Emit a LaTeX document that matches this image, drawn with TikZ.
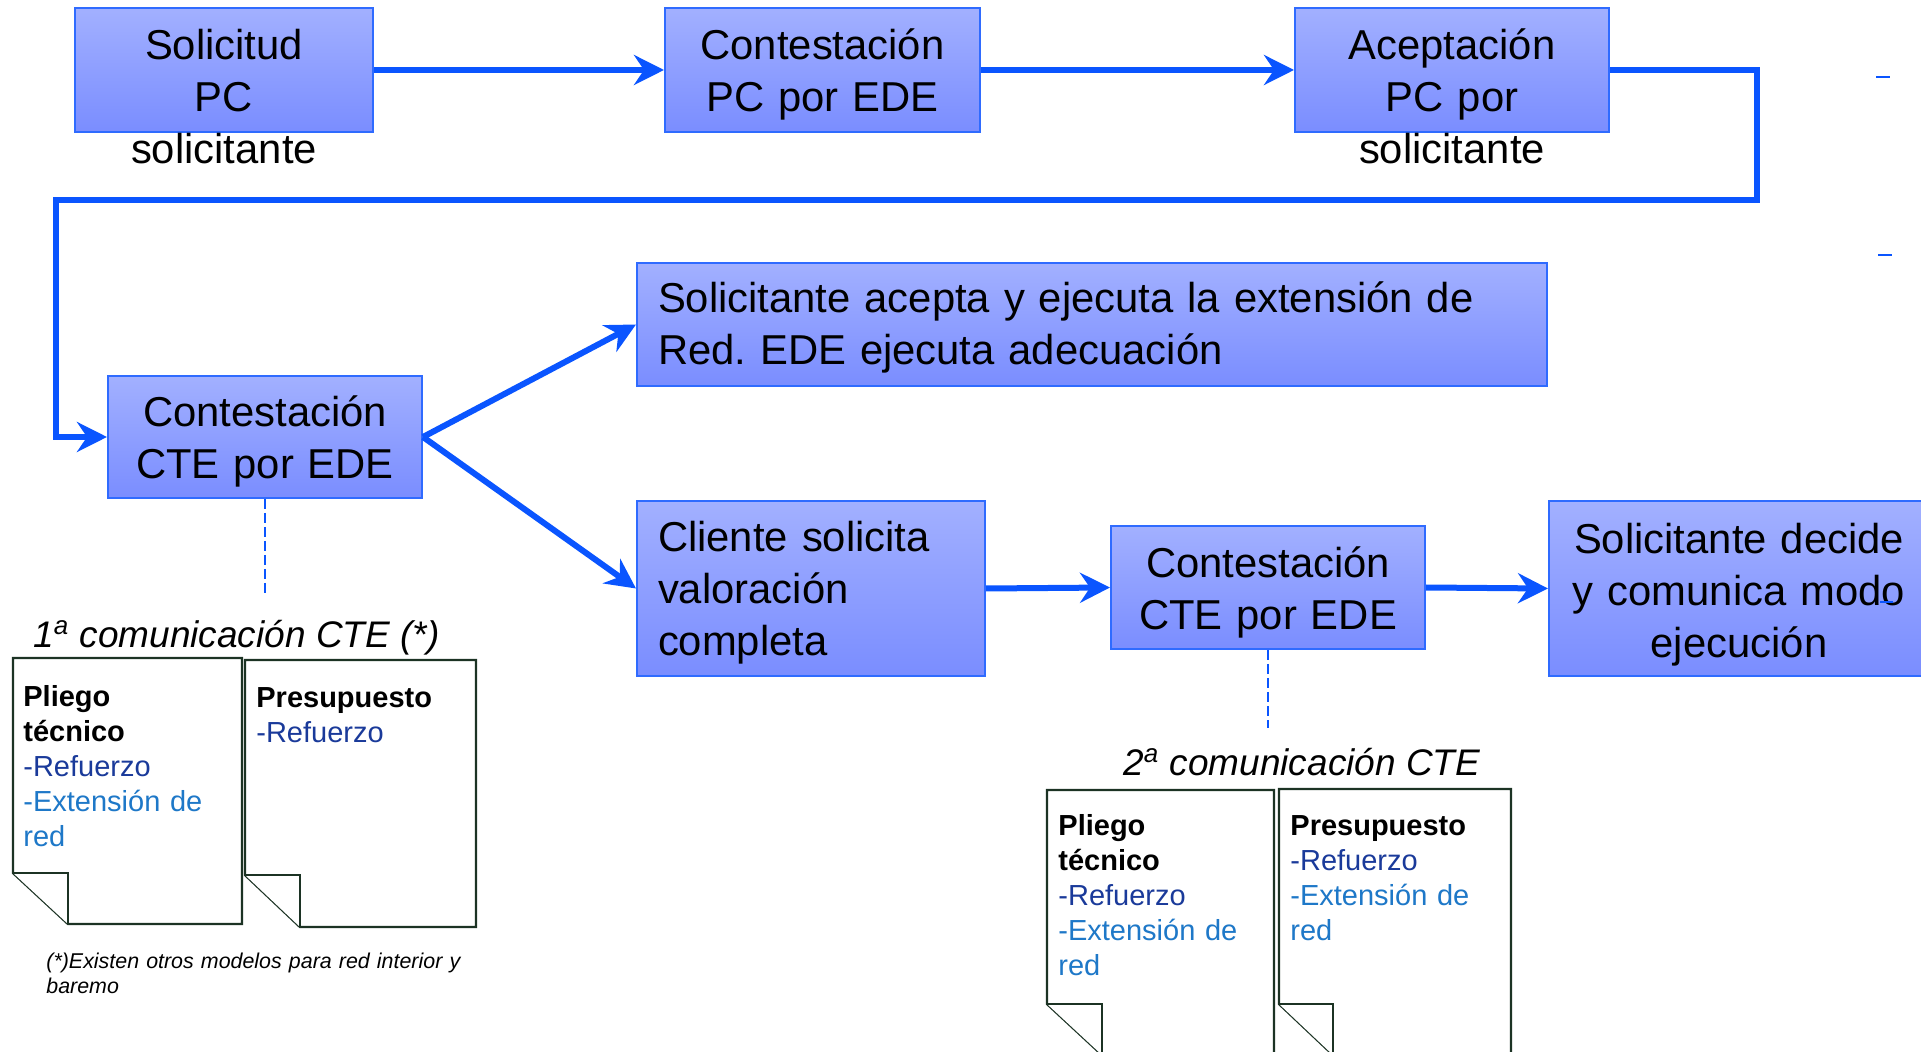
\documentclass[tikz,border=0pt]{standalone}
\usepackage{fontspec}
\setmainfont{Liberation Sans}
\usetikzlibrary{arrows.meta, positioning, calc}

\definecolor{flowblue}{RGB}{10,85,255}
\definecolor{boxtop}{RGB}{162,176,255}
\definecolor{boxbottom}{RGB}{122,141,255}
\definecolor{boxedge}{RGB}{47,107,255}
\definecolor{docedge}{RGB}{28,51,36}
\definecolor{refblue}{RGB}{26,58,154}
\definecolor{extblue}{RGB}{30,120,200}

\newcommand{\stagefont}{\fontsize{20.9}{26}\selectfont}
\newcommand{\sheetfont}{\fontsize{14.5}{17.5}\selectfont}
\newcommand{\titlefont}{\itshape\fontsize{18.5}{22}\selectfont}
\newcommand{\notefont}{\itshape\fontsize{10.7}{12.5}\selectfont}

\begin{document}
\frenchspacing
\begin{tikzpicture}[
    x=0.5pt, y=-0.5pt,
    >={Stealth[length=15pt, width=15pt, inset=5pt]},
    flow/.style={->, line width=3pt, color=flowblue},
    stage box/.style={draw=boxedge, line width=1pt, top color=boxtop, bottom color=boxbottom, inner ysep=0pt, font=\stagefont},
    centred stage/.style={stage box, align=center, inner xsep=0pt},
    left stage/.style={stage box, align=left, inner xsep=10.5pt},
    sheet/.style={draw=docedge, line width=1.2pt, fill=white},
    sheet text/.style={anchor=base west, inner sep=0pt, align=left, text width=105pt, font=\sheetfont},
    comm title/.style={anchor=base west, inner sep=0pt, font=\titlefont},
    comm link/.style={dash pattern=on 5pt off 2pt, line width=1.3pt, color=flowblue},
    stray mark/.style={line width=1.3pt, color=flowblue}
]

    \useasboundingbox (0,0) rectangle (1921,1052);

    % === Coordinates ===
    \coordinate (loopR) at (1757,200);
    \coordinate (loopL) at (56,200);
    \coordinate (comm1) at (265,595);
    \coordinate (comm2) at (1268,728);

    % === Stage boxes ===
    % text height/depth fix the first baseline inside each box
    \node[centred stage, text width=149pt, text height=26pt, text depth=36pt] (solicitud) at (224,70) {Solicitud\\PC\\solicitante};
    \node[centred stage, text width=157.5pt, text height=26pt, text depth=36pt] (pcEde) at (822.5,70) {Contestación\\PC por EDE};
    \node[centred stage, text width=157pt, text height=26pt, text depth=36pt] (aceptacion) at (1452,70) {Aceptación\\PC por\\solicitante};
    \node[centred stage, text width=157pt, text height=25.5pt, text depth=35.5pt] (cteEde1) at (265,437) {Contestación\\CTE por EDE};
    \node[left stage, text width=434pt, text height=25pt, text depth=36.5pt] (extension) at (1092,324.5) {Solicitante acepta y ejecuta la extensión de\\Red. EDE ejecuta adecuación};
    \node[left stage, text width=153pt, text height=25.5pt, text depth=62pt] (valoracion) at (811,588.5) {Cliente solicita\\valoración\\completa};
    \node[centred stage, text width=157pt, text height=26pt, text depth=35.5pt] (cteEde2) at (1268,587.5) {Contestación\\CTE por EDE};
    \node[centred stage, text width=190pt, text height=26.3pt, text depth=61.2pt] (modo) at (1739,588.5) {Solicitante decide\\y comunica modo\\ejecución};

    % === Flow arrows ===
    \draw[flow] (solicitud.east) -- (pcEde.west);
    \draw[flow] (pcEde.east) -- (aceptacion.west);
    \draw[flow] (aceptacion.east) -| (loopR) -- (loopL) |- (cteEde1.west);
    \draw[flow] (cteEde1.east) -- (extension.west);
    \draw[flow] (cteEde1.east) -- (valoracion.west);
    \draw[flow] (valoracion.east) -- (cteEde2.west);
    \draw[flow] (cteEde2.east) -- (modo.west);

    % === Communications ===
    \draw[comm link] (cteEde1.south) -- (comm1);
    \draw[comm link] (cteEde2.south) -- (comm2);

    \node[comm title] (comm1Title) at (33,647) {1\textsuperscript{a} comunicación CTE (*)};
    \node[comm title] (comm2Title) at (1123,775) {2\textsuperscript{a} comunicación CTE};

    % first communication sheets
    \draw[sheet] (13,658) -- (242,658) -- (242,924) -- (68,924) -- (13,873) -- cycle;
    \draw[sheet] (13,873) -- (68,873) -- (68,924);
    \draw[sheet] (245,660) -- (476,660) -- (476,927) -- (300,927) -- (245,875) -- cycle;
    \draw[sheet] (245,875) -- (300,875) -- (300,927);

    \node[sheet text] (pliego1) at (23,706) {\textbf{Pliego}\\\textbf{técnico}\\{\color{refblue}-Refuerzo}\\{\color{extblue}-Extensión de}\\{\color{extblue}red}};
    \node[sheet text] (presupuesto1) at (256,707) {\textbf{Presupuesto}\\{\color{refblue}-Refuerzo}};

    % second communication sheets
    \draw[sheet] (1047,790) -- (1274,790) -- (1274,1055) -- (1102,1055) -- (1047,1004) -- cycle;
    \draw[sheet] (1047,1004) -- (1102,1004) -- (1102,1055);
    \draw[sheet] (1279,789) -- (1511,789) -- (1511,1055) -- (1333,1055) -- (1279,1004) -- cycle;
    \draw[sheet] (1279,1004) -- (1333,1004) -- (1333,1055);

    \node[sheet text] (pliego2) at (1058,835) {\textbf{Pliego}\\\textbf{técnico}\\{\color{refblue}-Refuerzo}\\{\color{extblue}-Extensión de}\\{\color{extblue}red}};
    \node[sheet text] (presupuesto2) at (1290,835) {\textbf{Presupuesto}\\{\color{refblue}-Refuerzo}\\{\color{extblue}-Extensión de}\\{\color{extblue}red}};

    % footnote
    \node[anchor=base west, inner sep=0pt, align=left, text width=215pt, font=\notefont] (footnote) at (46,968) {(*)Existen otros modelos para red interior y\\baremo};

    % stray marks at the right edge
    \draw[stray mark] (1876,77) -- (1890,77);
    \draw[stray mark] (1878,255) -- (1892,255);
    \draw[stray mark] (1880,602) -- (1893,602);

\end{tikzpicture}
\end{document}
